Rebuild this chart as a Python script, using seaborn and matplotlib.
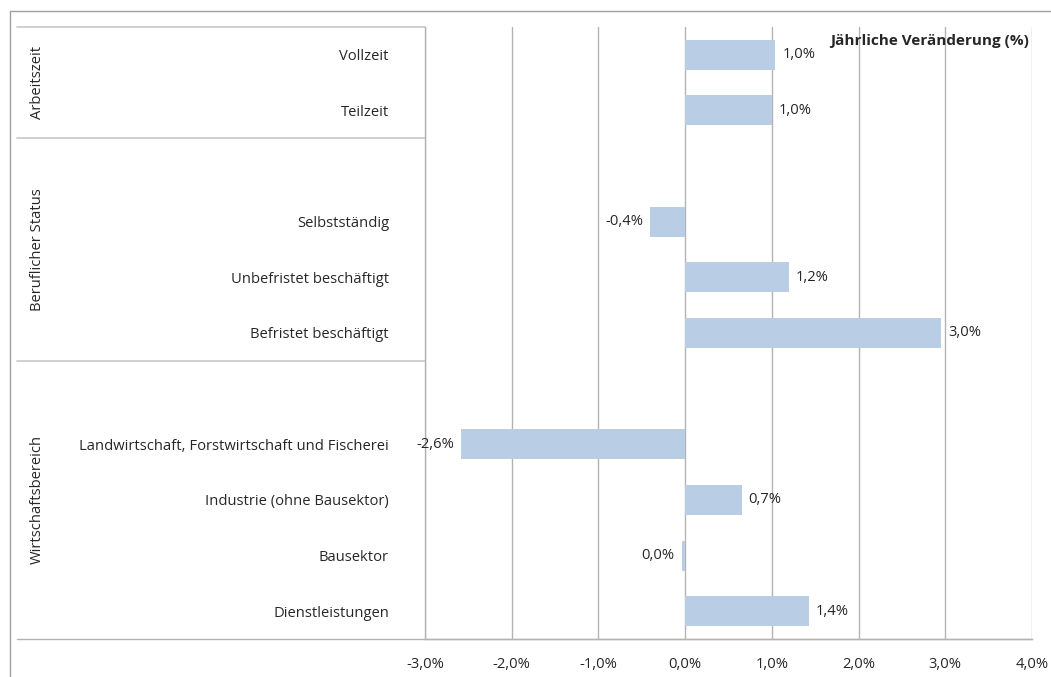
import numpy as np
import pandas as pd
import matplotlib.pyplot as plt
import seaborn as sns
from matplotlib.lines import Line2D

# categories (empty strings are spacer rows between groups)
categories = ["Vollzeit", "Teilzeit", "",
              "Selbstständig", "Unbefristet beschäftigt", "Befristet beschäftigt", " ",
              "Landwirtschaft, Forstwirtschaft und Fischerei", "Industrie (ohne Bausektor)",
              "Bausektor", "Dienstleistungen"]
values = [1.04, 1.0, np.nan, -0.4, 1.2, 2.95, np.nan, -2.58, 0.65, -0.04, 1.43]
groups = ["Arbeitszeit", "Beruflicher Status", "Wirtschaftsbereich"]
group_rows = [(0, 2), (2, 6), (6, 11)]   # row ranges belonging to each group
xticks = [-3, -2, -1, 0, 1, 2, 3, 4]

df = pd.DataFrame({"Kategorie": categories, "Wert": values})

sns.set_style("white")
plt.rcParams['font.family'] = ['Open Sans', 'DejaVu Sans']
txt = '#262626'
grid = '#b3b3b3'
fs = 10.6

fig = plt.figure(figsize=(10.51, 6.77), dpi=100)
ax = fig.add_axes([425/1051, 38/677, (1032-425)/1051, (639-27)/677])

sns.barplot(data=df, y="Kategorie", x="Wert", order=categories, color='#b9cde5',
            width=0.54, saturation=1, linewidth=0, ax=ax, zorder=3)

ax.set_xlim(-3, 4)
ax.set_ylim(len(categories) - 0.5, -0.5)
ax.set_xticks(xticks)
ax.set_xticklabels([f"{t:.1f}%".replace('.', ',') for t in xticks], fontsize=fs, color=txt)
ax.tick_params(axis='x', length=5, color=grid, pad=8)
ax.tick_params(axis='y', length=0, pad=26, labelsize=fs, labelcolor=txt)
ax.set_xlabel("")
ax.set_ylabel("")
ax.grid(axis='x', color=grid, linewidth=1, zorder=0)
for s in ['top', 'right']:
    ax.spines[s].set_visible(False)
for s in ['left', 'bottom']:
    ax.spines[s].set_color(grid)
    ax.spines[s].set_linewidth(1)

# value labels
def lab(v):
    if abs(v) < 0.05:
        v = 0.0
    return f"{v:.1f}%".replace('.', ',')
for c in ax.containers:
    ax.bar_label(c, fmt=lab, padding=5, fontsize=fs, color=txt)

# category box on the left
x0 = (17 - 425) / (1032 - 425)
ax.add_line(Line2D([x0, 1], [0, 0], transform=ax.transAxes, color=grid, lw=1, clip_on=False))
ax.add_line(Line2D([x0, 0], [1, 1], transform=ax.transAxes, color='#c8c8c8', lw=1.2, clip_on=False))
trans = ax.get_yaxis_transform()
for g, (a, b) in zip(groups, group_rows):
    if a > 0:
        ax.add_line(Line2D([x0, 0], [a - 0.5, a - 0.5], transform=trans, color='#c8c8c8', lw=1.2, clip_on=False))
    ax.text((37 - 425) / (1032 - 425), (a + b - 1) / 2, g, transform=trans, rotation=90,
            ha='center', va='center', fontsize=fs, color=txt)

ax.text(0.995, 0.988, "Jährliche Veränderung (%)", transform=ax.transAxes, ha='right', va='top',
        fontsize=11, fontweight='bold', color=txt)

# outer frame
fig.add_artist(Line2D([10/1051, 1], [1 - 11/677, 1 - 11/677], color='#a0a0a0', lw=1))
fig.add_artist(Line2D([10/1051, 10/1051], [0, 1 - 11/677], color='#a0a0a0', lw=1))

fig.savefig("out.png", dpi=100)
